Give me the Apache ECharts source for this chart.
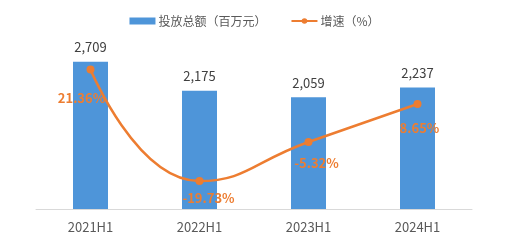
<!DOCTYPE html>
<html><head><meta charset="utf-8">
<script src="https://cdn.jsdelivr.net/npm/echarts@6/dist/echarts.min.js"></script>
<style>html,body{margin:0;padding:0;background:#fff}#c{width:509px;height:242px}</style>
</head><body><div id="c"></div>
<script>
const categories = ['2021H1','2022H1','2023H1','2024H1'];
const investment = [2709, 2175, 2059, 2237];
const growth = [21.36, -19.73, -5.32, 8.65];
const seriesNames = ['投放总额（百万元）','增速（%）'];
const labelOffsets = [[-9, 4], [9, -8], [8, -3], [2, 0]];

const chart = echarts.init(document.getElementById('c'));
const font = '"Microsoft YaHei","Noto Sans CJK SC","Liberation Sans",sans-serif';
chart.setOption({
  animation: false,
  textStyle: { fontFamily: font },
  legend: {
    top: 10, left: 'center', itemGap: 24, itemWidth: 26, itemHeight: 7,
    textStyle: { color: '#595959', fontSize: 12, fontFamily: font, padding: [0, 0, 0, -2] },
    data: [
      { name: seriesNames[0], icon: 'rect' },
      { name: seriesNames[1] }
    ]
  },
  grid: { left: 36, right: 37, top: 46, bottom: 33 },
  xAxis: {
    type: 'category', data: categories,
    axisLine: { lineStyle: { color: '#d9d9d9', width: 1 } },
    axisTick: { show: false },
    axisLabel: { color: '#595959', fontSize: 13, margin: 12, fontFamily: font }
  },
  yAxis: [
    { type: 'value', min: 0, max: 3000, show: false, splitLine: { show: false } },
    { type: 'value', min: -30, max: 30, show: false, splitLine: { show: false } }
  ],
  series: [
    {
      name: seriesNames[0], type: 'bar', data: investment, barWidth: 35,
      itemStyle: { color: '#4E95D9' },
      label: {
        show: true, position: 'top', distance: 8, color: '#404040', fontSize: 13,
        formatter: p => p.value.toLocaleString('en-US')
      }
    },
    {
      name: seriesNames[1], type: 'line', yAxisIndex: 1, smooth: true,
      data: growth.map((v, i) => ({ value: v, label: { offset: labelOffsets[i] } })),
      symbol: 'circle', symbolSize: 8,
      lineStyle: { color: '#ED7D31', width: 2.5 },
      itemStyle: { color: '#ED7D31' },
      label: {
        show: true, position: 'bottom', distance: 14, color: '#ED7D31', fontSize: 13, fontWeight: 'bold',
        formatter: p => p.value.toFixed(2) + '%'
      }
    }
  ]
});
</script></body></html>
